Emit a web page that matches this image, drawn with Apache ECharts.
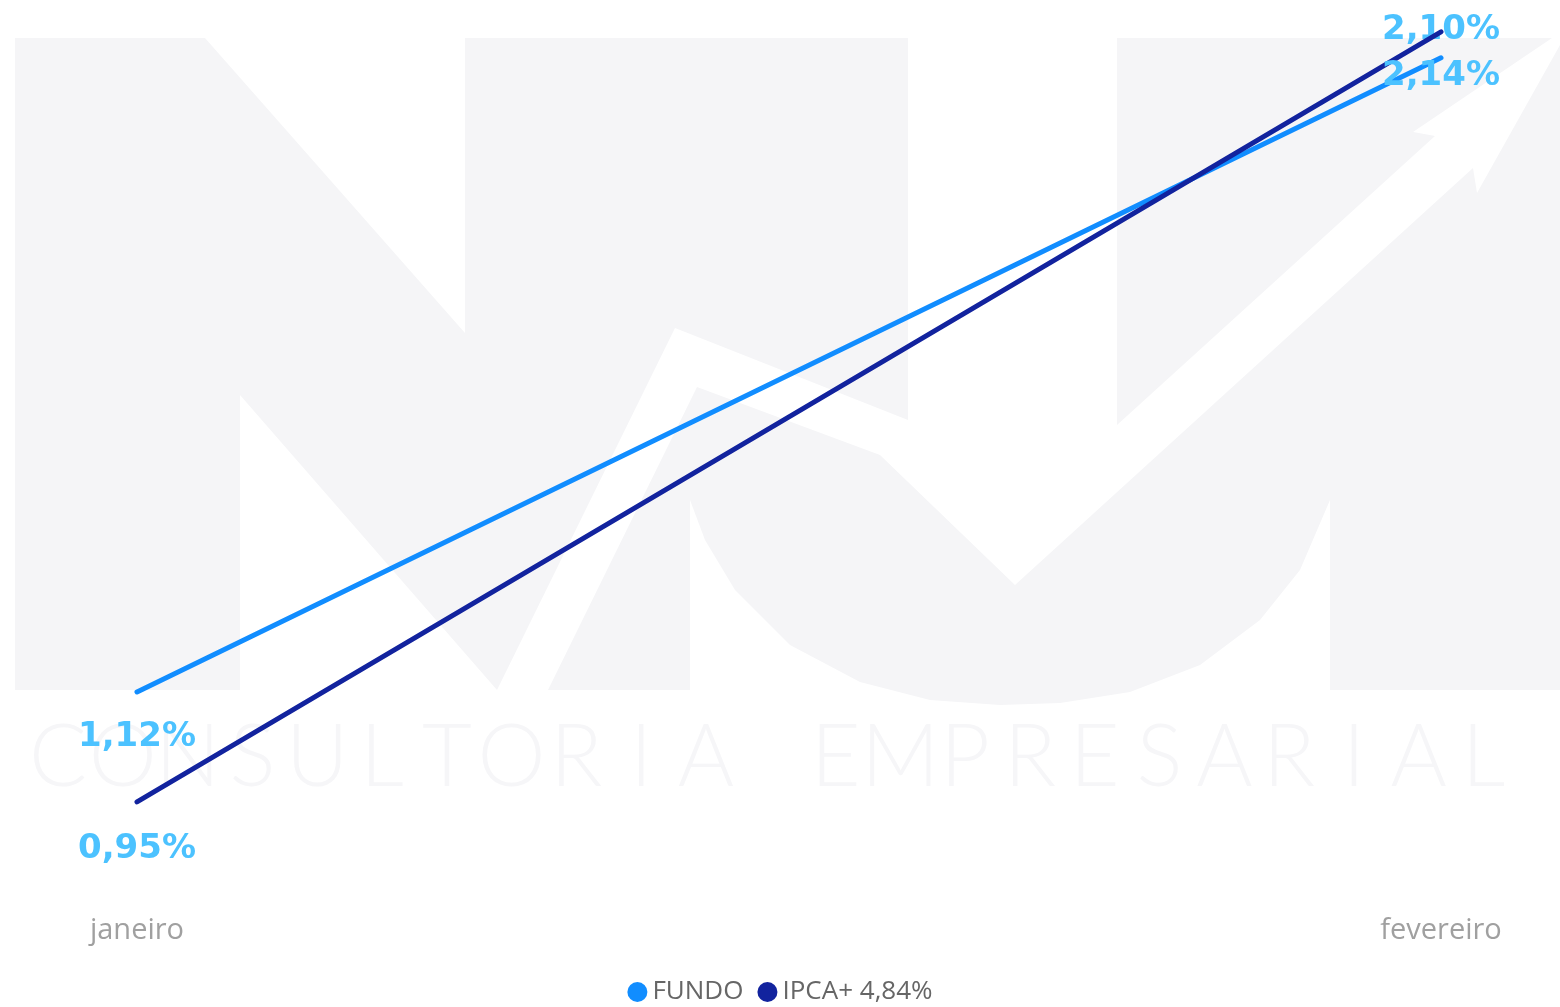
<!DOCTYPE html>
<html>
<head>
<meta charset="utf-8">
<style>html,body{margin:0;padding:0;background:#fff;}#c{width:1560px;height:1007px;}</style>
<script src="https://cdn.jsdelivr.net/npm/echarts@6/dist/echarts.min.js"></script>
</head>
<body>
<div id="c"></div>
<script>
const categories = ['janeiro', 'fevereiro'];
const fundoValues = [1.12, 2.10];
const ipcaValues = [0.95, 2.14];
const seriesNames = ['FUNDO', 'IPCA+ 4,84%'];
const watermarkText = 'CONSULTORIA EMPRESARIAL';

const chart = echarts.init(document.getElementById('c'));
const grey = '#f5f5f7';
const wmLetters = [];
for (let i = 0; i < watermarkText.length; i++) {
  const ch = watermarkText[i];
  if (ch === ' ') continue;
  wmLetters.push({
    type: 'text', silent: true,
    x: 58 + i * 64.8, y: 758,
    style: { text: ch, fill: '#f6f6f8', font: '300 86px Lato', align: 'center', verticalAlign: 'middle' }
  });
}
const fmt = p => p.value.toFixed(2).replace('.', ',') + '%';
const labelBase = { show: true, color: '#4cc2ff', fontFamily: "'Comic Sans MS', 'DejaVu Sans'", fontWeight: 'bold', fontSize: 34, formatter: fmt };

chart.setOption({
  animation: false,
  graphic: [
    { type: 'polygon', silent: true, shape: { points: [[15,38],[205,38],[465,333],[465,38],[908,38],[908,420],[675,328],[497,690],[240,395],[240,690],[15,690]] }, style: { fill: grey } },
    { type: 'polygon', silent: true, shape: { points: [[548,690],[697,387],[880,455],[1015,585],[1473,168],[1477,193],[1560,45],[1560,690],[1330,690],[1330,500],[1300,570],[1260,620],[1200,665],[1130,692],[1060,703],[1000,705],[930,700],[860,682],[790,645],[735,590],[705,540],[690,500],[690,690]] }, style: { fill: grey } },
    { type: 'polygon', silent: true, shape: { points: [[1117,38],[1552,38],[1413,132],[1435,136],[1117,425]] }, style: { fill: grey } }
  ].concat(wmLetters),
  grid: { left: 137, right: 119, top: 6, bottom: 108 },
  legend: {
    top: 974, left: 'center', icon: 'circle', itemWidth: 20, itemHeight: 20, itemGap: 14,
    textStyle: { color: '#666', fontSize: 26, fontFamily: "'Open Sans'" },
    data: seriesNames
  },
  xAxis: {
    type: 'category', data: categories, boundaryGap: false,
    axisLine: { show: false }, axisTick: { show: false }, splitLine: { show: false },
    axisLabel: { color: '#a0a0a0', fontSize: 29, fontFamily: "'Open Sans'", margin: 17 }
  },
  yAxis: { type: 'value', min: 0.8, max: 2.18, show: false, splitLine: { show: false } },
  series: [
    {
      name: seriesNames[0], type: 'line', data: fundoValues.map((v, i) => ({
        value: v, label: Object.assign({}, labelBase, i === 0 ? { position: 'bottom', distance: 28 } : { position: 'top', distance: 10 })
      })),
      symbol: 'circle', symbolSize: 1, showSymbol: true, color: '#118dff', lineStyle: { width: 5, cap: 'round' }, z: 3
    },
    {
      name: seriesNames[1], type: 'line', data: ipcaValues.map((v, i) => ({
        value: v, label: Object.assign({}, labelBase, { position: 'bottom', distance: i === 0 ? 30 : 27 })
      })),
      symbol: 'circle', symbolSize: 1, showSymbol: true, color: '#12239e', lineStyle: { width: 5, cap: 'round' }, z: 4
    }
  ]
});
</script>
</body>
</html>
